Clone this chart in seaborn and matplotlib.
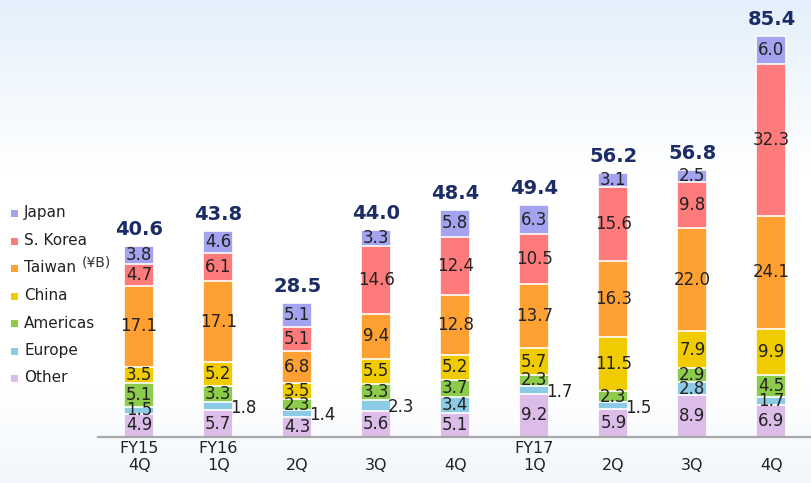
import numpy as np
import pandas as pd
import seaborn as sns
import matplotlib.pyplot as plt
from matplotlib.patches import Rectangle

# quarters (unique keys) and their axis labels
quarters = ["FY15 4Q", "FY16 1Q", "FY16 2Q", "FY16 3Q", "FY16 4Q",
            "FY17 1Q", "FY17 2Q", "FY17 3Q", "FY17 4Q"]
tick_labels = ["FY15\n4Q", "FY16\n1Q", "\n2Q", "\n3Q", "\n4Q",
               "FY17\n1Q", "\n2Q", "\n3Q", "\n4Q"]

# sales by region, ¥B (bottom to top in the stack)
other = [4.9, 5.7, 4.3, 5.6, 5.1, 9.2, 5.9, 8.9, 6.9]
europe = [1.5, 1.8, 1.4, 2.3, 3.4, 1.7, 1.5, 2.8, 1.7]
americas = [5.1, 3.3, 2.3, 3.3, 3.7, 2.3, 2.3, 2.9, 4.5]
china = [3.5, 5.2, 3.5, 5.5, 5.2, 5.7, 11.5, 7.9, 9.9]
taiwan = [17.1, 17.1, 6.8, 9.4, 12.8, 13.7, 16.3, 22.0, 24.1]
korea = [4.7, 6.1, 5.1, 14.6, 12.4, 10.5, 15.6, 9.8, 32.3]
japan = [3.8, 4.6, 5.1, 3.3, 5.8, 6.3, 3.1, 2.5, 6.0]
totals = [40.6, 43.8, 28.5, 44.0, 48.4, 49.4, 56.2, 56.8, 85.4]

regions = ["Other", "Europe", "Americas", "China", "Taiwan", "S. Korea", "Japan"]
values = [other, europe, americas, china, taiwan, korea, japan]
colors = ["#dcbde9", "#8ccbe6", "#8dcb4a", "#efcb00", "#ffa032", "#ff7b7b", "#a3a3f0"]

# europe labels drawn beside the bar instead of inside
europe_outside = [False, True, True, True, False, True, True, False, False]

sns.set_theme(style="white")
plt.rcParams["font.family"] = ["DejaVu Sans"]

fig = plt.figure(figsize=(8.11, 4.83), dpi=100)

# light blue background wash
bg = fig.add_axes([0, 0, 1, 1], zorder=-10)
grad = np.linspace(0, 1, 200)
top = np.array([228, 240, 251]) / 255
bot = np.array([242, 247, 252]) / 255
wt = np.ones(3)
img = np.zeros((200, 1, 3))
for k, t in enumerate(grad):
    if t < 0.35:
        c = top + (wt - top) * (t / 0.35)
    elif t < 0.8:
        c = wt
    else:
        c = wt + (bot - wt) * ((t - 0.8) / 0.2)
    img[k, 0] = c
bg.imshow(img, aspect="auto", extent=[0, 1, 0, 1])
bg.axis("off")

ax = fig.add_axes([98 / 811, 46 / 483, 713 / 811, 437 / 483])
ax.patch.set_alpha(0)

df = pd.DataFrame({"quarter": quarters})
bottoms = np.zeros(len(quarters))
cum = []
for vals in values:
    cum.append(bottoms.copy())
    bottoms = bottoms + np.array(vals)

# draw from the top layer down so each cumulative bar covers the one below
for idx in range(len(regions) - 1, -1, -1):
    df["top"] = cum[idx] + np.array(values[idx])
    sns.barplot(data=df, x="quarter", y="top", order=quarters, color=colors[idx],
                saturation=1, width=0.38, edgecolor="white", linewidth=1.2,
                errorbar=None, ax=ax)

# segment labels
for idx, vals in enumerate(values):
    for i, v in enumerate(vals):
        yc = cum[idx][i] + v / 2
        if regions[idx] == "Europe" and europe_outside[i]:
            ax.text(i + 0.15, yc - 0.4, f"{v:.1f}", ha="left", va="center",
                    fontsize=12, color="#222222")
        else:
            ax.text(i, yc, f"{v:.1f}", ha="center", va="center",
                    fontsize=12, color="#222222")

# totals
for i, t in enumerate(totals):
    ax.annotate(f"{t:.1f}", (i, t), xytext=(0, 5), textcoords="offset points",
                ha="center", va="bottom", fontsize=14, fontweight="bold",
                color="#1b2c66")

ax.set_xlim(-0.52, 8.5)
ax.set_ylim(0, 93)
ax.set_xticks(range(len(quarters)))
ax.set_xticklabels(tick_labels, fontsize=11.5, color="#222222", linespacing=1.15)
ax.tick_params(axis="x", length=0, pad=3)
ax.set_yticks([])
ax.set_xlabel("")
ax.set_ylabel("")
for s in ["top", "right", "left"]:
    ax.spines[s].set_visible(False)
ax.spines["bottom"].set_color("#a8a8a8")
ax.spines["bottom"].set_linewidth(1.6)

# legend, top to bottom
for j, idx in enumerate(range(len(regions) - 1, -1, -1)):
    yp = 213 + 27.5 * j
    fig.add_artist(Rectangle((11 / 811, 1 - (yp + 4) / 483), 7 / 811, 7 / 483,
                             transform=fig.transFigure, facecolor=colors[idx],
                             edgecolor="none"))
    fig.text(24 / 811, 1 - yp / 483, regions[idx], ha="left", va="center",
             fontsize=11, color="#222222")
fig.text(82 / 811, 1 - 262 / 483, "(¥B)", ha="left", va="center",
         fontsize=10, color="#333333")

fig.savefig("out.png", dpi=100)
